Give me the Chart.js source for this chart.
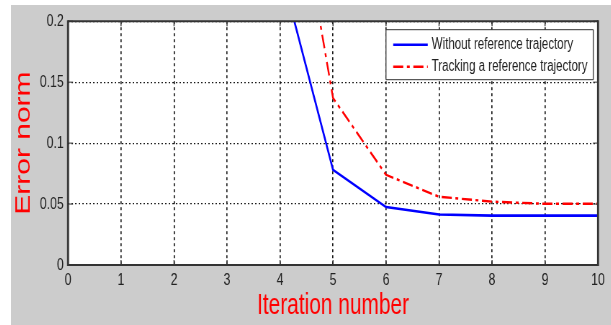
<!DOCTYPE html>
<html>
<head>
<meta charset="utf-8">
<script src="https://cdn.jsdelivr.net/npm/chart.js@4.4.1/dist/chart.umd.min.js"></script>
<style>
    body { margin: 0; background: #ffffff; overflow: hidden; }
    #frame { position: absolute; left: 11px; top: 5px; width: 600px; height: 320px; background: #cccccc; overflow: hidden; }
    /* the original picture is squeezed sideways, so the chart is drawn wider and scaled down */
    #wrap { position: absolute; left: 0; top: 0; width: 833.33px; height: 320px; transform: scaleX(0.72); transform-origin: 0 0; }
</style>
</head>
<body>
<div id="frame"><div id="wrap"><canvas id="myChart"></canvas></div></div>
<script>
const SX = 0.72;

const iterations = [4, 5, 6, 7, 8, 9, 10];
const withoutRef = [0.245, 0.078, 0.0475, 0.0414, 0.0405, 0.0405, 0.0405];
const trackingRef = [0.39, 0.137, 0.074, 0.056, 0.052, 0.0502, 0.0502];

const xTickValues = [0, 1, 2, 3, 4, 5, 6, 7, 8, 9, 10];
const xTickLabels = ['0', '1', '2', '3', '4', '5', '6', '7', '8', '9', '10'];
const yTickValues = [0, 0.05, 0.1, 0.15, 0.2];
const yTickLabels = ['0', '0.05', '0.1', '0.15', '0.2'];

const seriesNames = ['Without reference trajectory', 'Tracking a reference trajectory'];

function toPoints(xs, ys) {
    return xs.map((x, i) => ({ x: x, y: ys[i] }));
}

// white plot area, box, inward ticks and the legend
const matlabLook = {
    id: 'matlabLook',
    beforeDraw(chart) {
        const a = chart.chartArea;
        const ctx = chart.ctx;
        ctx.save();
        ctx.fillStyle = '#ffffff';
        ctx.fillRect(a.left, a.top, a.right - a.left, a.bottom - a.top);
        ctx.restore();
    },
    afterDatasetsDraw(chart) {
        const a = chart.chartArea;
        const ctx = chart.ctx;
        const xs = chart.scales.x;
        const ys = chart.scales.y;
        ctx.save();
        ctx.strokeStyle = '#333333';
        ctx.setLineDash([]);

        // ticks pointing in
        xTickValues.forEach(v => {
            const px = xs.getPixelForValue(v);
            ctx.beginPath();
            ctx.moveTo(px, a.bottom); ctx.lineTo(px, a.bottom - 5);
            ctx.moveTo(px, a.top); ctx.lineTo(px, a.top + 5);
            ctx.lineWidth = 1 / SX;
            ctx.stroke();
        });
        yTickValues.forEach(v => {
            const py = ys.getPixelForValue(v);
            ctx.beginPath();
            ctx.moveTo(a.left, py); ctx.lineTo(a.left + 7, py);
            ctx.moveTo(a.right, py); ctx.lineTo(a.right - 7, py);
            ctx.lineWidth = 1;
            ctx.stroke();
        });

        // legend box
        const lw = 288, lh = 50;
        const lx = a.right - 6.5 - lw;
        const ly = a.top + 8.5;
        ctx.fillStyle = '#ffffff';
        ctx.fillRect(lx, ly, lw, lh);
        ctx.lineWidth = 1;
        ctx.beginPath();
        ctx.moveTo(lx, ly); ctx.lineTo(lx + lw, ly);
        ctx.moveTo(lx, ly + lh); ctx.lineTo(lx + lw, ly + lh);
        ctx.stroke();
        ctx.lineWidth = 1.3;
        ctx.beginPath();
        ctx.moveTo(lx, ly); ctx.lineTo(lx, ly + lh);
        ctx.moveTo(lx + lw, ly); ctx.lineTo(lx + lw, ly + lh);
        ctx.stroke();

        chart.data.datasets.forEach((ds, i) => {
            const rowY = ly + 15 + i * 22;
            ctx.strokeStyle = ds.borderColor;
            ctx.lineWidth = ds.borderWidth;
            ctx.setLineDash(ds.borderDash || []);
            ctx.beginPath();
            ctx.moveTo(lx + 10, rowY);
            ctx.lineTo(lx + 58, rowY);
            ctx.stroke();
            ctx.setLineDash([]);
            ctx.fillStyle = '#222222';
            ctx.font = '16px "Liberation Sans", Arial, sans-serif';
            ctx.textBaseline = 'middle';
            ctx.textAlign = 'left';
            ctx.fillText(ds.label, lx + 63.5, rowY);
        });

        // box round the axes
        ctx.strokeStyle = '#333333';
        ctx.lineWidth = 2;
        ctx.beginPath();
        ctx.moveTo(a.left, a.top); ctx.lineTo(a.right, a.top);
        ctx.moveTo(a.left, a.bottom); ctx.lineTo(a.right, a.bottom);
        ctx.stroke();
        ctx.lineWidth = 2 / SX;
        ctx.beginPath();
        ctx.moveTo(a.left, a.top - 1); ctx.lineTo(a.left, a.bottom + 1);
        ctx.moveTo(a.right, a.top - 1); ctx.lineTo(a.right, a.bottom + 1);
        ctx.stroke();
        ctx.restore();
    }
};

const ctx = document.getElementById('myChart');

const myChart = new Chart(ctx, {
    type: 'line',
    data: {
        datasets: [{
            label: seriesNames[0],
            data: toPoints(iterations, withoutRef),
            borderColor: '#0000ff',
            borderWidth: 2.6,
            pointRadius: 0,
            tension: 0
        }, {
            label: seriesNames[1],
            data: toPoints(iterations, trackingRef),
            borderColor: '#ff0000',
            borderWidth: 2.4,
            borderDash: [14, 5, 4, 5],
            pointRadius: 0,
            tension: 0
        }]
    },
    options: {
        responsive: true,
        maintainAspectRatio: false,
        animation: false,
        layout: { padding: { left: 0, top: 11.5, right: 18, bottom: 0 } },
        plugins: {
            legend: { display: false },
            tooltip: { enabled: false }
        },
        scales: {
            x: {
                type: 'linear',
                min: 0,
                max: 10,
                afterBuildTicks: (scale) => { scale.ticks = xTickValues.map(v => ({ value: v })); },
                afterFit: (scale) => { scale.height = 60; },
                ticks: {
                    autoSkip: false,
                    maxRotation: 0,
                    padding: 5,
                    color: '#222222',
                    font: { family: '"Liberation Sans", Arial, sans-serif', size: 17 },
                    callback: (value, index) => xTickLabels[index]
                },
                grid: {
                    color: '#1a1a1a',
                    lineWidth: 1.2 / SX,
                    drawTicks: false,
                    tickLength: 0
                },
                border: { display: false, dash: [3, 3] },
                title: {
                    display: true,
                    text: 'Iteration number',
                    color: '#ff0000',
                    font: { family: '"Liberation Sans", Arial, sans-serif', size: 29, lineHeight: 1 },
                    padding: { top: 0, bottom: 4.5 }
                }
            },
            y: {
                min: 0,
                max: 0.2,
                afterBuildTicks: (scale) => { scale.ticks = yTickValues.map(v => ({ value: v })); },
                afterFit: (scale) => { scale.width = 79.2; },
                ticks: {
                    padding: 6,
                    color: '#222222',
                    font: { family: '"Liberation Sans", Arial, sans-serif', size: 17 },
                    callback: (value, index) => yTickLabels[index]
                },
                grid: {
                    color: '#1a1a1a',
                    lineWidth: 1.2,
                    drawTicks: false,
                    tickLength: 0
                },
                border: { display: false, dash: [2, 3] },
                title: {
                    display: true,
                    text: 'Error norm',
                    color: '#ff0000',
                    font: { family: '"Liberation Sans", Arial, sans-serif', size: 30, lineHeight: 1 },
                    padding: { top: 2.5, bottom: 0 }
                }
            }
        }
    },
    plugins: [matlabLook]
});
</script>
</body>
</html>
